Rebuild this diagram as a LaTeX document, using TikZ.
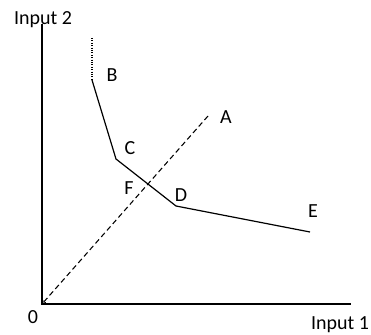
\documentclass[tikz,border=0pt]{standalone}
\usepackage{fontspec}
\setmainfont{Carlito}
\usetikzlibrary{arrows.meta}

\begin{document}
\begin{tikzpicture}[
  x=0.75pt,y=-0.75pt,
  lbl/.style={font=\fontsize{15}{18}\selectfont,inner sep=0pt},
  axis/.style={line width=0.9pt},
  curve/.style={line width=0.9pt,line join=round},
  ray/.style={dashed,line width=0.8pt,dash pattern=on 4pt off 2.5pt}
]
\useasboundingbox (0,0) rectangle (371,335);
% axes
\coordinate (O) at (42,304);
\coordinate (ytop) at (42,24);
\coordinate (xend) at (351,304);
\draw[axis] (ytop) -- (O) -- (xend);
% kinked curve
\coordinate (top) at (92,38);
\coordinate (pB) at (92,80);
\coordinate (pC) at (116,159);
\coordinate (pD) at (176,206);
\coordinate (pE) at (310,232);
\draw[densely dotted,line width=0.8pt] (top) -- (pB);
\draw[curve] (pB) -- (pC) -- (pD) -- (pE);
% ray from origin
\coordinate (pA) at (208,116);
\draw[ray,-{Straight Barb[length=2pt,width=3pt]}] (pA) -- (O);
% labels
\node[lbl] (labB) at (112,75) {B};
\node[lbl] (labC) at (130,148) {C};
\node[lbl] (labA) at (226,117) {A};
\node[lbl] (labF) at (129,188) {F};
\node[lbl] (labD) at (181,195) {D};
\node[lbl] (labE) at (313,211) {E};
\node[lbl] (lab0) at (33,317) {0};
\node[lbl] (in1) at (340,325) {Input 1};
\node[lbl] (in2) at (43,20) {Input 2};
\end{tikzpicture}
\end{document}
